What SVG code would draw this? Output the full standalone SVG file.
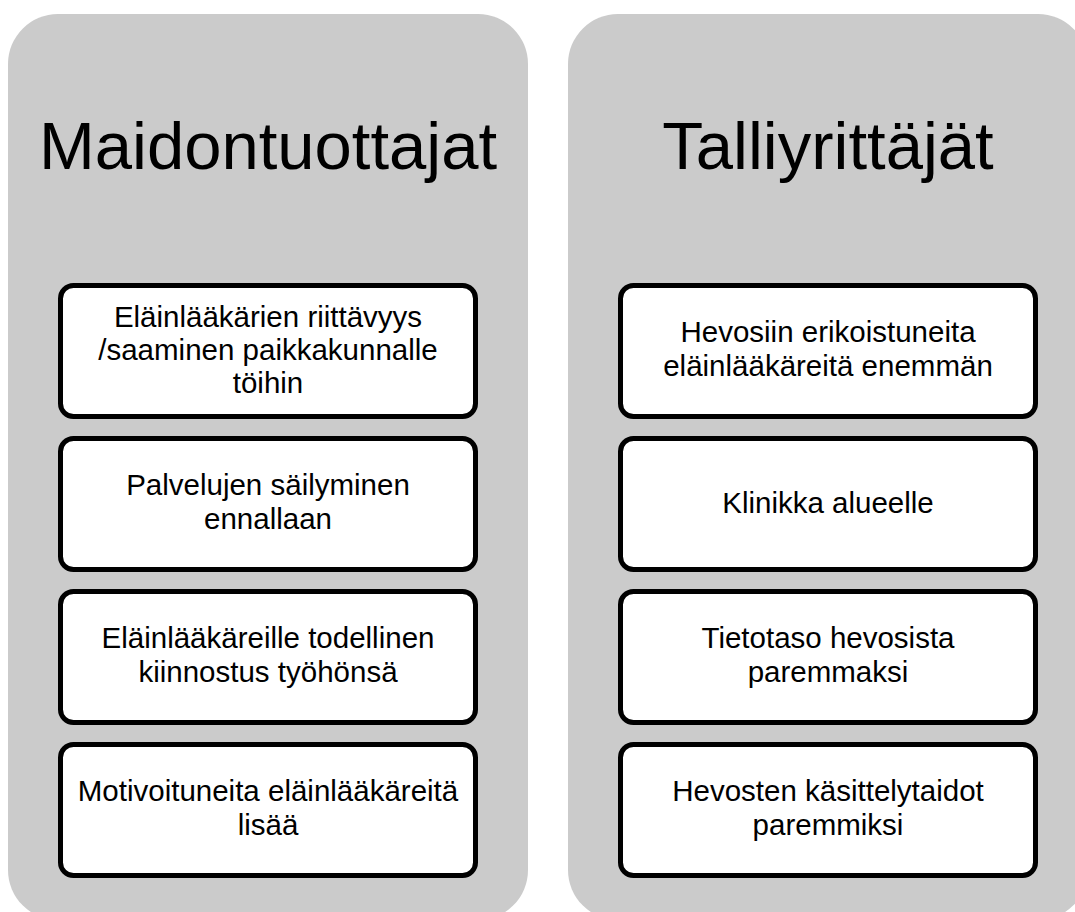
<svg xmlns="http://www.w3.org/2000/svg" width="1075" height="912" viewBox="0 0 1075 912">
<style>
.panel{fill:#cbcbcb;stroke:none}
.box{fill:#ffffff;stroke:#000000;stroke-width:5}
.title{font-family:"Liberation Sans",Arial,sans-serif;font-size:67px;fill:#000;text-anchor:middle}
.t{font-family:"Liberation Sans",Arial,sans-serif;font-size:29.5px;fill:#000;text-anchor:middle}
</style>
<rect width="1075" height="912" fill="#ffffff"/>
<g id="panel-left">
<rect class="panel" x="8" y="14" width="520" height="906" rx="50" ry="50"/>
<text class="title" x="268" y="169">Maidontuottajat</text>
</g>
<g id="panel-right">
<rect class="panel" x="568" y="14" width="520" height="906" rx="50" ry="50"/>
<text class="title" x="828" y="169">Talliyrittäjät</text>
</g>
<g id="connectors"></g>
<g id="l1">
<rect class="box" x="60.5" y="285.5" width="415" height="131" rx="13"/>
<text class="t" x="268" y="327">Eläinlääkärien riittävyys</text>
<text class="t" x="268" y="360">/saaminen paikkakunnalle</text>
<text class="t" x="268" y="393">töihin</text>
</g>
<g id="l2">
<rect class="box" x="60.5" y="438.5" width="415" height="131" rx="13"/>
<text class="t" x="268" y="495">Palvelujen säilyminen</text>
<text class="t" x="268" y="529">ennallaan</text>
</g>
<g id="l3">
<rect class="box" x="60.5" y="591.5" width="415" height="131" rx="13"/>
<text class="t" x="268" y="648">Eläinlääkäreille todellinen</text>
<text class="t" x="268" y="682">kiinnostus työhönsä</text>
</g>
<g id="l4">
<rect class="box" x="60.5" y="744.5" width="415" height="131" rx="13"/>
<text class="t" x="268" y="801">Motivoituneita eläinlääkäreitä</text>
<text class="t" x="268" y="835">lisää</text>
</g>
<g id="r1">
<rect class="box" x="620.5" y="285.5" width="415" height="131" rx="13"/>
<text class="t" x="828" y="342">Hevosiin erikoistuneita</text>
<text class="t" x="828" y="376">eläinlääkäreitä enemmän</text>
</g>
<g id="r2">
<rect class="box" x="620.5" y="438.5" width="415" height="131" rx="13"/>
<text class="t" x="828" y="513">Klinikka alueelle</text>
</g>
<g id="r3">
<rect class="box" x="620.5" y="591.5" width="415" height="131" rx="13"/>
<text class="t" x="828" y="648">Tietotaso hevosista</text>
<text class="t" x="828" y="682">paremmaksi</text>
</g>
<g id="r4">
<rect class="box" x="620.5" y="744.5" width="415" height="131" rx="13"/>
<text class="t" x="828" y="801">Hevosten käsittelytaidot</text>
<text class="t" x="828" y="835">paremmiksi</text>
</g>
</svg>
